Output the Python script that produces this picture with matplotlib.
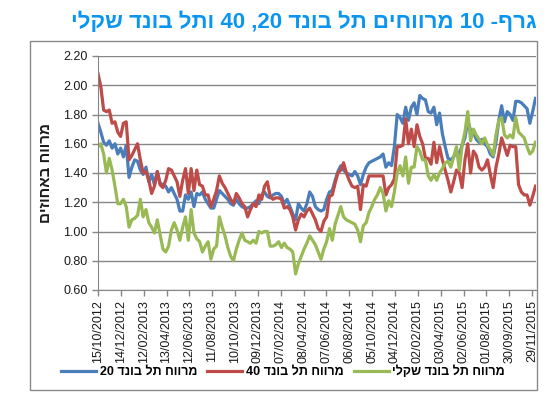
import re
import numpy as np
import pandas as pd
import matplotlib
matplotlib.use('Agg')
import matplotlib.pyplot as plt
from matplotlib.patches import Rectangle

plt.rcParams['font.family'] = ['Liberation Sans', 'DejaVu Sans']


def rtl(s):
    # matplotlib has no bidi support: flip the text, keep numbers left-to-right
    r = s[::-1]
    return re.sub(r'\d+', lambda m: m.group(0)[::-1], r)


# ---------------------------------
# Data
# ---------------------------------

start_date = '2012-10-15'
end_date = '2015-12-08'

spread_20 = [
    1.74, 1.68, 1.61, 1.59, 1.62, 1.57, 1.60, 1.53, 1.57, 1.51,
    1.59, 1.37, 1.44, 1.49, 1.48, 1.42, 1.39, 1.44, 1.34, 1.39,
    1.32, 1.41, 1.33, 1.32, 1.31, 1.27, 1.30, 1.26, 1.22, 1.14,
    1.14, 1.25, 1.22, 1.27, 1.17, 1.26, 1.25, 1.27, 1.22, 1.19,
    1.16, 1.16, 1.22, 1.28, 1.26, 1.24, 1.22, 1.19, 1.18, 1.22,
    1.19, 1.17, 1.16, 1.16, 1.17, 1.19, 1.21, 1.19, 1.25, 1.27,
    1.24, 1.23, 1.25, 1.26, 1.26, 1.24, 1.19, 1.22, 1.17, 1.12,
    1.08, 1.19, 1.16, 1.14, 1.19, 1.27, 1.24, 1.17, 1.15, 1.14,
    1.15, 1.22, 1.27, 1.28, 1.35, 1.41, 1.45, 1.42, 1.40, 1.39,
    1.38, 1.41, 1.38, 1.32, 1.39, 1.44, 1.47, 1.48, 1.49, 1.50,
    1.51, 1.53, 1.44, 1.47, 1.45, 1.58, 1.80, 1.78, 1.74, 1.85,
    1.76, 1.85, 1.88, 1.80, 1.93, 1.91, 1.90, 1.82, 1.81, 1.85,
    1.73, 1.81, 1.67, 1.58, 1.50, 1.49, 1.51, 1.55, 1.53, 1.59,
    1.64, 1.76, 1.69, 1.68, 1.63, 1.61, 1.63, 1.60, 1.58, 1.53,
    1.51, 1.61, 1.76, 1.86, 1.75, 1.82, 1.80, 1.76, 1.89, 1.89,
    1.88, 1.86, 1.84, 1.74, 1.82, 1.91,
]

spread_40 = [
    2.08, 1.99, 1.83, 1.82, 1.83, 1.74, 1.75, 1.68, 1.65, 1.74,
    1.75, 1.49, 1.52, 1.56, 1.60, 1.49, 1.40, 1.41, 1.35, 1.26,
    1.31, 1.41, 1.32, 1.30, 1.35, 1.43, 1.42, 1.38, 1.34, 1.24,
    1.35, 1.43, 1.26, 1.43, 1.28, 1.42, 1.32, 1.31, 1.25, 1.25,
    1.17, 1.22, 1.28, 1.38, 1.33, 1.30, 1.26, 1.22, 1.19, 1.26,
    1.23, 1.19, 1.17, 1.10, 1.15, 1.19, 1.17, 1.25, 1.22, 1.31,
    1.34, 1.24, 1.22, 1.23, 1.23, 1.22, 1.16, 1.17, 1.15, 1.10,
    1.01, 1.08, 1.12, 1.10, 1.14, 1.16, 1.12, 1.08, 1.02, 1.00,
    1.07, 1.10, 1.24, 1.25, 1.33, 1.40, 1.42, 1.47, 1.40, 1.35,
    1.31, 1.30, 1.31, 1.15, 1.32, 1.31, 1.38, 1.38, 1.38, 1.38,
    1.38, 1.38, 1.25, 1.30, 1.32, 1.36, 1.58, 1.58, 1.59, 1.77,
    1.60, 1.70, 1.58, 1.73, 1.65, 1.60, 1.50, 1.50, 1.46, 1.61,
    1.47, 1.58, 1.49, 1.42, 1.35, 1.27, 1.34, 1.42, 1.40, 1.30,
    1.49, 1.60, 1.40, 1.55, 1.52, 1.44, 1.42, 1.44, 1.49, 1.39,
    1.30, 1.44, 1.53, 1.64, 1.58, 1.52, 1.59, 1.58, 1.58, 1.32,
    1.27, 1.25, 1.25, 1.18, 1.24, 1.31,
]

spread_shekel = [
    1.58, 1.60, 1.53, 1.40, 1.50, 1.42, 1.31, 1.19, 1.19, 1.22,
    1.17, 1.03, 1.08, 1.09, 1.11, 1.22, 1.10, 1.15, 1.06, 1.03,
    0.99, 1.08, 0.98, 0.88, 0.86, 0.90, 1.01, 1.06, 1.01, 0.94,
    1.03, 1.10, 0.94, 1.15, 0.99, 0.95, 0.93, 0.86, 0.90, 0.93,
    0.81, 0.88, 0.90, 1.10, 1.03, 0.97, 0.89, 0.83, 0.80, 0.88,
    0.94, 0.99, 0.94, 0.93, 0.92, 0.94, 0.92, 1.00, 0.99, 1.00,
    1.00, 0.90, 0.90, 0.91, 0.93, 0.89, 0.92, 0.89, 0.88, 0.86,
    0.71, 0.78, 0.83, 0.88, 0.92, 0.97, 0.94, 0.91, 0.86, 0.81,
    0.88, 0.93, 1.02, 0.94, 1.05, 1.11, 1.17, 1.10, 1.08, 1.07,
    1.06, 1.05, 1.01, 0.93, 1.04, 1.06, 1.13, 1.17, 1.22, 1.25,
    1.30, 1.26, 1.14, 1.21, 1.17, 1.27, 1.40, 1.45, 1.38, 1.51,
    1.33, 1.44, 1.44, 1.58, 1.55, 1.49, 1.49, 1.38, 1.35, 1.39,
    1.35, 1.40, 1.43, 1.47, 1.48, 1.44, 1.51, 1.58, 1.42, 1.59,
    1.68, 1.82, 1.62, 1.70, 1.66, 1.63, 1.60, 1.64, 1.59, 1.56,
    1.52, 1.66, 1.76, 1.78, 1.66, 1.64, 1.66, 1.64, 1.78, 1.68,
    1.66, 1.64, 1.58, 1.53, 1.55, 1.61,
]

series_names = ['מרווח תל בונד 20', 'מרווח תל בונד 40', 'מרווח תל בונד שקלי']
series_colors = ['#4A7EBB', '#BE4B48', '#98B954']

title = 'גרף- 10 מרווחים תל בונד 20, 40 ותל בונד שקלי'
y_label = 'מרווח באחוזים'

dates = pd.date_range(start_date, end_date, periods=len(spread_20))
tick_dates = pd.date_range(start_date, periods=20, freq='60D')

# ---------------------------------
# Chart
# ---------------------------------

W, H = 558, 399
fig = plt.figure(figsize=(W / 100, H / 100), dpi=100)
ax = fig.add_axes([98 / W, 1 - 290 / H, 437.5 / W, 234 / H])

# outer chart frame
fig.patches.append(Rectangle((30 / W, 1 - 390 / H), 507 / W, 349 / H,
                             transform=fig.transFigure, fill=False,
                             ec='#8a8a8a', lw=1))

for values, name, color in zip([spread_20, spread_40, spread_shekel],
                               series_names, series_colors):
    ax.plot(dates, values, color=color, lw=2.3, label=rtl(name),
            solid_joinstyle='round')

ax.set_ylim(0.6, 2.2)
ax.set_yticks(np.arange(0.6, 2.21, 0.2))
ax.set_yticklabels([f'{v:.2f}' for v in np.arange(0.6, 2.21, 0.2)])
ax.set_xlim(dates[0], dates[-1])
ax.set_xticks(tick_dates)
ax.set_xticklabels([d.strftime('%d/%m/%Y') for d in tick_dates], rotation=90)

ax.yaxis.grid(True, color='#868686', lw=1)
ax.set_axisbelow(True)
for side in ['top', 'right']:
    ax.spines[side].set_visible(False)
for side in ['left', 'bottom']:
    ax.spines[side].set_color('#868686')
ax.tick_params(colors='#868686', labelcolor='#1a1a1a', labelsize=9,
               length=4, width=1)

fig.text(304 / W, 1 - 22 / H, rtl(title), ha='center', va='center',
         fontsize=16, fontweight='bold', color='#0A96F0')
fig.text(46 / W, 1 - 173 / H, rtl(y_label), rotation=90, ha='center',
         va='center', fontsize=11, fontweight='bold', color='#1a1a1a')

fig.legend(loc='center', bbox_to_anchor=(283 / W, 1 - 372 / H), ncol=3,
           frameon=False, prop={'weight': 'bold', 'size': 9},
           handlelength=2.8, handletextpad=0.3, columnspacing=0.8)

fig.savefig('out.png', dpi=100)
